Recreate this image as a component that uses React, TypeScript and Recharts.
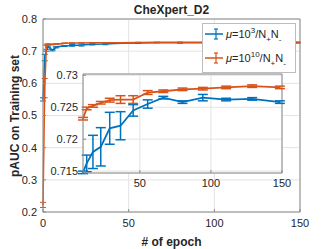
import React from "react";
import {
  LineChart,
  Line,
  XAxis,
  YAxis,
  CartesianGrid,
  ErrorBar,
  ReferenceLine,
} from "recharts";

// early epochs only shown in the main axes
const earlyEpochs = [0, 1, 2, 3, 5.5, 7.5];
const blueEarly = [0.55, 0.68, 0.703, 0.714, 0.703, 0.712];
const blueEarlyErr = [0.005, 0.01, 0.003, 0.002, 0.002, 0.002];
const orangeEarly = [0.222, 0.585, 0.72, 0.7215, 0.721, 0.722];
const orangeEarlyErr = [0.008, 0.03, 0.002, 0.001, 0.001, 0.001];

// epochs shown in the zoomed inset (and the main axes)
const epochs = [10, 12.6, 17, 22.5, 28.8, 36.4, 45.3, 55.5, 66.5, 80, 94.3, 110.7, 129, 148.5];
const blue = [0.7148, 0.7162, 0.718, 0.7188, 0.7217, 0.7221, 0.7245, 0.7255, 0.7265, 0.7258, 0.7265, 0.7262, 0.7263, 0.7258];
const blueErr = [0.0002, 0.0013, 0.0026, 0.003, 0.0025, 0.0022, 0.0009, 0.00065, 0.0002, 0.0002, 0.0005, 0.0002, 0.0002, 0.0002];
const orange = [0.7232, 0.7248, 0.7252, 0.7257, 0.7261, 0.7262, 0.7262, 0.7273, 0.7275, 0.7278, 0.7279, 0.7281, 0.7283, 0.7281];
const orangeErr = [0.0002, 0.0002, 0.0002, 0.0002, 0.0003, 0.0006, 0.0006, 0.0003, 0.0002, 0.0002, 0.0002, 0.0002, 0.0002, 0.0002];

const mainXTicks = [0, 50, 100, 150];
const mainYTicks = [0.2, 0.3, 0.4, 0.5, 0.6, 0.7, 0.8];
const insetXTicks = [50, 100, 150];
const insetYTicks = [0.715, 0.72, 0.725, 0.73];

const BLUE = "#0072BD";
const ORANGE = "#D95319";
const AXIS = "#8a8a8a";
const TEXT = "#262626";
const GRID = "#e3e3e3";
const FONT = "'Liberation Sans', Arial, sans-serif";

const insetRows = epochs.map((x, i) => ({
  x,
  blue: blue[i],
  blueErr: blueErr[i],
  orange: orange[i],
  orangeErr: orangeErr[i],
}));

const mainRows = [
  ...earlyEpochs.map((x, i) => ({
    x,
    blue: blueEarly[i],
    blueErr: blueEarlyErr[i],
    orange: orangeEarly[i],
    orangeErr: orangeEarlyErr[i],
  })),
  ...insetRows,
];

const tickStyle = { fontSize: 11, fill: TEXT, fontFamily: FONT };

function LegendIcon({ color }: { color: string }) {
  return (
    <svg width={20} height={12} style={{ display: "block" }}>
      <line x1={1} y1={6} x2={19} y2={6} stroke={color} strokeWidth={1.5} />
      <line x1={12} y1={1} x2={12} y2={11} stroke={color} strokeWidth={1.2} />
      <line x1={10} y1={1} x2={14} y2={1} stroke={color} strokeWidth={1.2} />
      <line x1={10} y1={11} x2={14} y2={11} stroke={color} strokeWidth={1.2} />
    </svg>
  );
}

function MuLabel({ exp }: { exp: string }) {
  const sup = { fontSize: 8, position: "relative" as const, top: -5 };
  const sub = { fontSize: 8, position: "relative" as const, top: 4 };
  return (
    <span>
      <i>μ</i>=10<span style={sup}>{exp}</span>/N<span style={sub}>+</span>N
      <span style={sub}>-</span>
    </span>
  );
}

export default function App() {
  return (
    <div
      style={{
        position: "absolute",
        left: 0,
        top: 0,
        width: 332,
        height: 249,
        background: "#fff",
        fontFamily: FONT,
        color: TEXT,
      }}
    >
      <div style={{ position: "absolute", left: 0, top: 0 }}>
        <LineChart
          width={332}
          height={249}
          data={mainRows}
          margin={{ top: 19, right: 32, bottom: 7, left: 13 }}
        >
          <CartesianGrid stroke={GRID} />
          <XAxis
            dataKey="x"
            type="number"
            domain={[0, 150]}
            ticks={mainXTicks}
            height={30}
            tickSize={-3}
            tickMargin={10}
            stroke={AXIS}
            tick={tickStyle}
          />
          <YAxis
            type="number"
            domain={[0.2, 0.8]}
            ticks={mainYTicks}
            width={30}
            tickSize={-3}
            tickMargin={9}
            stroke={AXIS}
            tick={tickStyle}
          />
          <ReferenceLine x={150} stroke={AXIS} />
          <ReferenceLine y={0.8} stroke={AXIS} />
          <Line
            dataKey="blue"
            stroke={BLUE}
            strokeWidth={1.5}
            dot={false}
            isAnimationActive={false}
          >
            <ErrorBar dataKey="blueErr" width={3} stroke={BLUE} strokeWidth={1} direction="y" />
          </Line>
          <Line
            dataKey="orange"
            stroke={ORANGE}
            strokeWidth={1.5}
            dot={false}
            isAnimationActive={false}
          >
            <ErrorBar dataKey="orangeErr" width={3} stroke={ORANGE} strokeWidth={1} direction="y" />
          </Line>
        </LineChart>
      </div>

      {/* zoomed inset */}
      <div style={{ position: "absolute", left: 0, top: 0 }}>
        <LineChart
          width={332}
          height={249}
          data={insetRows}
          margin={{ top: 74, right: 50, bottom: 50, left: 40 }}
        >
          <CartesianGrid stroke={GRID} fill="#fff" />
          <XAxis
            dataKey="x"
            type="number"
            domain={[10, 150]}
            ticks={insetXTicks}
            height={26}
            tickSize={-3}
            tickMargin={9}
            stroke={AXIS}
            tick={tickStyle}
          />
          <YAxis
            type="number"
            domain={[0.7147, 0.7302]}
            ticks={insetYTicks}
            allowDataOverflow
            width={43}
            tickSize={-3}
            tickMargin={8}
            stroke={AXIS}
            tick={tickStyle}
          />
          <ReferenceLine x={150} stroke={AXIS} />
          <ReferenceLine y={0.7302} stroke={AXIS} />
          <Line
            dataKey="blue"
            stroke={BLUE}
            strokeWidth={1.8}
            dot={false}
            isAnimationActive={false}
          >
            <ErrorBar dataKey="blueErr" width={5} stroke={BLUE} strokeWidth={1.5} direction="y" />
          </Line>
          <Line
            dataKey="orange"
            stroke={ORANGE}
            strokeWidth={1.8}
            dot={false}
            isAnimationActive={false}
          >
            <ErrorBar dataKey="orangeErr" width={5} stroke={ORANGE} strokeWidth={1.5} direction="y" />
          </Line>
        </LineChart>
      </div>

      {/* legend */}
      <div
        style={{
          position: "absolute",
          left: 202,
          top: 23,
          width: 92,
          height: 48,
          border: "1px solid #bdbdbd",
          background: "#fff",
          fontSize: 11,
        }}
      >
        <div style={{ position: "absolute", left: 1, top: 4, display: "flex", alignItems: "center", gap: 2 }}>
          <LegendIcon color={BLUE} />
          <MuLabel exp="3" />
        </div>
        <div style={{ position: "absolute", left: 1, top: 28, display: "flex", alignItems: "center", gap: 2 }}>
          <LegendIcon color={ORANGE} />
          <MuLabel exp="10" />
        </div>
      </div>

      {/* title and axis labels */}
      <div
        style={{
          position: "absolute",
          left: 43,
          width: 257,
          top: 3,
          textAlign: "center",
          fontWeight: "bold",
          fontSize: 12,
          lineHeight: "14px",
        }}
      >
        CheXpert_D2
      </div>
      <div
        style={{
          position: "absolute",
          left: 43,
          width: 257,
          top: 235,
          textAlign: "center",
          fontWeight: "bold",
          fontSize: 12,
          lineHeight: "14px",
        }}
      >
        # of epoch
      </div>
      <div
        style={{
          position: "absolute",
          left: 15 - 80,
          top: 116 - 7,
          width: 160,
          textAlign: "center",
          fontWeight: "bold",
          fontSize: 12,
          lineHeight: "14px",
          transform: "rotate(-90deg)",
        }}
      >
        pAUC on Training set
      </div>
    </div>
  );
}
